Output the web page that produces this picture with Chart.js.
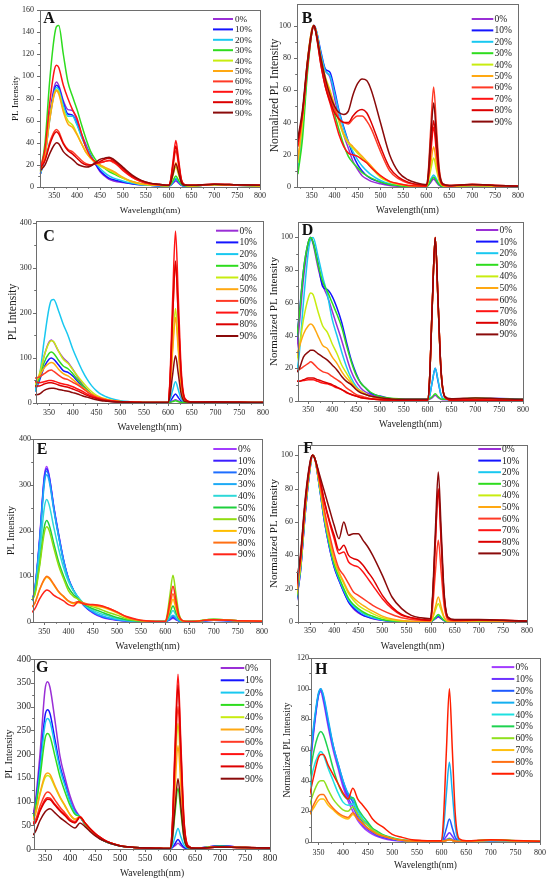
<!DOCTYPE html>
<html><head><meta charset="utf-8">
<script src="https://cdn.jsdelivr.net/npm/chart.js@4.4.1/dist/chart.umd.min.js"></script>
<style>
html,body{margin:0;padding:0;background:#fff;}
body{width:550px;height:884px;position:relative;overflow:hidden;}
canvas{position:absolute;}
</style></head><body>
<script>
// ---------- DATA ----------
const wavelengths = [320,330,340,350,355,360,370,380,390,400,410,420,430,440,450,460,470,480,500,520,540,560,580,600,604,610,616,622,628,636,650,700,750,800];
const seriesLabels = ['0%','10%','20%','30%','40%','50%','60%','70%','80%','90%'];
const xTickValues = [350,400,450,500,550,600,650,700,750,800];
const yTicksA = [0,20,40,60,80,100,120,140,160];
const yTicksNorm = [0,20,40,60,80,100];
const yTicks400 = [0,100,200,300,400];
const yTicksG = [0,50,100,150,200,250,300,350,400];
const yTicksH = [0,20,40,60,80,100,120];

const seriesA = [
 [12,30,65,90,95,92,78,70,69,60,48,38,29,21,14,10,7,5.5,4,3,2,1.5,1,1,1.5,3.5,5.5,3.5,1.5,1,1,2,1.5,1],
 [12,28,62,87,92,90,76,66,65,57,46,36,28,21,15,11,8,6.5,4.5,3,2,1.5,1,1,1.5,4,7,4.5,1.8,1,1,2,1.5,1],
 [12,28,60,85,90,88,74,64,64,56,45,36,28,22,17,13,10,8,5.5,3.5,2,1.5,1,1,1.5,4.5,8,5,2,1,1,2,1.5,1],
 [15,40,95,135,145,146,120,95,82,70,56,43,32,25,20,17,14,12,8,5,3,2,1.5,1.2,2,6,10,6,2.5,1.2,1,2,1.5,1],
 [14,30,62,84,88,86,70,60,56,48,39,31,26,22,19,17,15,13,8,4.5,2.5,2,1.5,1.2,3,11,18,11,4,1.5,1,2,1.5,1],
 [14,30,60,83,87,84,68,57,54,47,39,31,26,22,20,18,16,14,9,5,3,2,1.5,1.2,3.5,13,22,13,4.5,1.5,1,2,1.5,1],
 [18,25,40,50,52,50,40,34,32,28,24,21,20,21,22,23,24,22,16,9,5,3,2,1.5,4,19,33,20,6,2,1.5,2.5,2,1.5],
 [17,35,75,105,110,108,92,80,70,62,48,35,27,23,22,23,24,23,15,9,5,3,2,1.5,5,24,42,25,7,2,1.5,2.5,2,1.5],
 [17,24,38,48,50,48,39,33,30,26,22,20,20,21,23,25,26,24,17,10,6,3.5,2.5,1.5,4.5,21,37,22,6.5,2,1.5,2.5,2,1.5],
 [15,20,30,38,40,39,32,28,25,21,19,18,19,22,25,26,27,25,18,11,6,3.5,2.5,1.5,3,12,21,13,4,1.5,1.5,2.5,2,1.5]
];
const seriesB = [
 [15,40,75,97,100,96,82,72,68,55,42,32,24,16,11,7,5,3.5,2,1,0.5,0.3,0.2,0.2,1,3,5,3,1,0.3,0.3,1,0.5,0.3],
 [14,38,72,96,100,97,84,73,71,60,47,37,28,20,14,10,7,5,3,1.5,0.8,0.4,0.3,0.2,1,4,6,4,1.5,0.4,0.3,1,0.5,0.3],
 [12,35,70,95,100,97,83,72,69,58,46,36,28,22,17,13,10,7.5,4,2,1,0.5,0.3,0.2,1.5,5,7.5,5,2,0.5,0.3,1,0.5,0.3],
 [8,30,68,95,100,95,78,64,54,45,35,26,19,15,12,9,7,5.5,3,1.5,0.8,0.4,0.3,0.2,1,4,6,4,1.5,0.4,0.3,1,0.5,0.3],
 [15,40,75,97,100,96,80,68,60,50,40,32,27,24,21,18,15,12,6,3,1.5,0.8,0.5,0.3,3,11,18,11,4,0.8,0.4,1,0.5,0.3],
 [17,42,76,97,100,96,80,67,59,50,41,33,28,25,22,19,16,13,7,3.5,1.8,1,0.6,0.4,4,15,25,15,5,1,0.5,1,0.5,0.3],
 [28,45,72,95,100,95,78,64,55,48,42,40,39,42,44,44,41,36,22,10,5,2.5,1.5,1,8,38,62,38,12,2,1,1.5,1,0.5],
 [25,45,75,96,100,95,76,62,52,42,32,25,21,20,19,17,15,12,7,3.5,2,1,0.6,0.5,5,22,37,22,7,1.2,0.6,1.5,1,0.5],
 [28,46,73,95,100,94,76,62,53,46,42,40,40,44,47,48,46,40,25,12,6,3,1.5,1,5,25,41,25,8,1.5,1,1.5,1,0.5],
 [30,48,76,96,100,95,80,67,57,50,46,45,47,57,64,67,66,60,40,20,9,4.5,2.5,1.5,7,32,52,32,10,2,1,1.5,1,0.5]
];
const seriesC = [
 [30,60,105,135,140,135,115,100,90,75,58,42,30,20,14,10,7,5,3,2,1.5,1,1,1,1.5,4.5,7,4.5,1.5,1,1,1.5,1.5,1],
 [25,50,80,97,100,97,85,72,68,60,48,36,26,18,12,8,6,4,2.5,1.5,1,1,1,1,3,12,20,12,4,1,1,1.5,1.5,1],
 [25,60,140,210,228,230,205,175,150,120,95,72,53,38,27,19,14,10,5,3,2,1.5,1,1,6,28,47,29,9,2,1.5,3,2,1.5],
 [35,55,90,110,113,110,95,82,76,65,52,40,29,20,14,10,7,5,3,2,1.5,1,1,1,1.5,3,5,3,1.5,1,1,2,1.5,1],
 [40,65,105,133,138,136,115,97,88,74,60,47,35,25,17,12,9,6,3.5,2,1.5,1,1,1,25,125,210,125,40,5,1.5,2,1.5,1],
 [45,60,78,88,90,88,75,65,60,52,43,35,27,20,15,11,8,6,3.5,2,1.5,1,1,1,22,115,190,115,37,5,1.5,2,1.5,1],
 [55,58,65,72,73,70,62,55,52,46,40,33,25,18,13,10,7,5,3,2,1.5,1,1,1,38,190,310,190,60,8,2,2,1.5,1],
 [48,45,47,50,50,49,45,42,40,36,31,26,20,15,11,8,6,4.5,3,2,1.5,1,1,1,45,230,382,230,75,10,2,2,1.5,1],
 [38,38,42,45,45,44,40,37,35,31,27,22,17,13,10,7,5,4,2.5,2,1.5,1,1,1,38,190,315,190,62,8,2,2,1.5,1],
 [18,20,28,32,33,33,30,28,26,23,20,16,13,10,7,5,4,3,2,1.5,1,1,1,1,13,63,105,64,20,3,1.5,2,1.5,1]
];
const seriesD = [
 [21,43,75,96,100,96,82,71,64,55,46,37,27,18,12,8,5.5,4,2,1.4,1,0.7,0.7,0.7,1,2,3.5,2,1,0.7,0.7,1,1,0.7],
 [25,50,80,97,100,97,85,70,68,64,57,48,36,25,17,11,8,5,3,1.5,1,1,1,1,3,12,20,12,4,1,1,1.5,1.5,1],
 [11,26,61,91,99,100,89,76,65,50,40,30,21,14,9,6,4,3,2,1.3,1,0.7,0.5,0.5,2.6,12,20,12.6,4,1,0.7,1.3,1,0.7],
 [31,49,80,97,100,97,84,73,67,60,53,45,34,24,16,11,8,5.5,2.7,1.8,1.3,1,1,1,1.3,2.7,4.4,2.7,1.3,1,1,1.8,1.3,1],
 [19,31,50,63,66,65,55,46,42,35,29,22,17,12,8,6,4.3,3,1.7,1,0.7,0.5,0.5,0.5,12,60,100,60,19,2.4,0.7,1,0.7,0.5],
 [24,32,41,46,47,46,40,34,32,27,23,18,14,11,8,6,4,3,1.8,1,0.8,0.5,0.5,0.5,12,60,100,60,19,2.6,0.8,1,0.8,0.5],
 [18,19,21,23,24,23,20,18,17,15,13,11,8,6,4,3,2.3,1.6,1,0.6,0.5,0.3,0.3,0.3,12,61,100,61,19,2.6,0.6,0.6,0.5,0.3],
 [12.5,12,12.5,13,13,13,12,11,10.5,9.4,8,7,5,4,3,2,1.6,1.2,0.8,0.5,0.4,0.3,0.3,0.3,12,60,100,60,20,2.6,0.5,0.5,0.4,0.3],
 [12,12,13,14,14,14,13,12,11,10,8.5,7,5.4,4,3,2.2,1.6,1.3,0.8,0.6,0.5,0.3,0.3,0.3,12,60,100,60,20,2.5,0.6,0.6,0.5,0.3],
 [17,19,27,30,31,31,29,27,25,22,19,15,12,10,7,5,4,3,2,1.4,1,1,1,1,12,60,100,61,19,2.9,1.4,1.9,1.4,1]
];
const seriesE = [
 [40,70,180,320,340,320,250,190,135,95,70,52,38,28,20,14,10,7,4,2,1.5,1,1,1,2,5,8,5,2,1,1,4,2,1],
 [40,68,175,315,335,318,248,188,134,94,70,52,38,28,21,15,11,8,4.5,2.5,1.5,1,1,1,2,6,10,6,2,1,1,4,2,1],
 [40,68,172,310,330,315,246,186,133,94,70,53,39,29,22,16,12,9,5,2.5,1.5,1,1,1,2.5,8,13,8,2.5,1,1,4,2,1],
 [40,68,170,302,322,308,242,184,132,93,70,54,40,30,23,17,13,10,5.5,3,1.5,1,1,1,3,9,15,9,3,1,1,4.5,2,1],
 [40,62,145,250,268,256,205,158,118,88,68,54,42,32,26,21,17,14,7,3.5,2,1,1,1,4,15,25,15,5,1.5,1,5,2.5,1],
 [45,60,125,208,222,212,170,130,100,75,60,50,40,34,29,25,21,17,10,5,2.5,1.5,1,1,6,21,35,21,7,2,1,6,3,1.5],
 [50,58,120,195,208,200,160,122,94,68,56,50,42,37,33,30,26,22,15,7,3,1.5,1,1,16,62,102,62,20,3,1,6,3,1.5],
 [30,40,70,92,98,95,80,65,55,45,40,42,40,38,36,34,32,29,20,10,5,2,1,1,8,30,50,30,10,2,1,5,3,1.5],
 [30,40,70,94,100,97,82,66,56,46,42,45,42,39,37,36,34,31,22,11,5,2,1,1,10,38,62,38,12,2.5,1,5,3,1.5],
 [18,28,50,66,70,68,58,52,46,38,35,44,40,38,38,37,35,31,22,12,6,2.5,1,1,12,48,78,48,15,3,1,5,3,1.5]
];
const seriesF = [
 [10,30,65,92,100,98,80,60,45,33,25,18,12,8,5.5,4,3,2,1,0.5,0.3,0.2,0.2,0.2,0.8,2,3,2,0.8,0.2,0.2,0.5,0.5,0.3],
 [10,30,65,92,100,98,80,60,45,33,25,18,12,8.5,6,4,3,2.2,1,0.5,0.3,0.2,0.2,0.2,0.8,2.2,3.5,2.2,0.8,0.2,0.2,0.5,0.5,0.3],
 [11,31,66,92,100,98,80,61,46,34,26,19,13,9.5,7,5,3.5,2.5,1.2,0.6,0.3,0.2,0.2,0.2,1,2.6,4,2.6,1,0.3,0.2,0.5,0.5,0.3],
 [12,32,67,93,100,98,81,62,47,35,27,20,14,10.5,8,6,4.5,3.5,1.5,0.7,0.4,0.2,0.2,0.2,1,2.7,4.5,2.7,1,0.3,0.2,0.6,0.5,0.3],
 [13,33,68,93,100,98,82,63,49,37,29,23,17,13,10,8,6.5,5,2.5,1.2,0.6,0.3,0.2,0.2,2,7,11,7,2.5,0.4,0.2,0.6,0.5,0.3],
 [14,34,69,94,100,98,82,64,50,38,30,24,18,14.5,12,10,8,6.5,3.5,1.8,0.9,0.4,0.3,0.3,2.5,9,15,9,3,0.5,0.3,0.7,0.5,0.3],
 [18,36,70,94,100,98,84,67,53,41,32,28,23,18,16,14,12,10,7,4.5,2.5,1.5,1,0.8,8,30,49,30,10,1.5,0.8,1,0.8,0.5],
 [20,38,72,95,100,98,86,72,60,50,41,42,36,34,33,30,26,22,14,8,4,2.5,1.5,1,13,49,80,49,16,2.5,1,1.2,1,0.5],
 [20,38,72,95,100,98,86,72,61,52,43,46,40,38,37,34,30,26,16,9,4.5,2.5,1.5,1,13,48,79,48,16,2.5,1,1.2,1,0.5],
 [22,40,74,96,100,98,88,78,68,58,50,60,52,53,53,49,45,40,28,15,8,4,2.5,2,15,55,90,55,18,3,1.5,1.5,1,0.5]
];
const seriesG = [
 [55,95,200,335,352,340,270,195,150,112,84,68,52,40,32,23,17,12,7,4,2.5,2,1.5,1,2.5,7,12,7,2.5,1,1,7,3,2],
 [50,85,175,280,293,285,230,175,138,102,78,68,52,40,30,22,16,12,6.5,4,2.5,2,1.5,1,3,11,20,11,3.5,1,1,7,3,2],
 [45,80,165,262,275,268,218,168,133,100,77,68,52,40,30,22,16,12,6.5,4,2.5,2,1.5,1,5,25,43,25,8,1.5,1,6,3,2],
 [55,80,150,232,243,237,195,152,120,92,73,68,52,40,30,22,16,12,6.5,4,2.5,2,1.5,1,13,75,128,75,22,3,1,6,3,2],
 [55,70,115,150,155,152,130,108,90,72,62,67,54,42,31,23,17,13,7,4,2.5,2,1.5,1,26,155,265,155,45,5,1.5,5,3,2],
 [58,72,118,155,160,157,133,110,92,73,63,68,54,42,31,23,17,13,7,4,2.5,2,1.5,1,22,127,218,127,37,4,1.5,5,3,2],
 [55,60,90,115,120,118,103,88,76,63,58,68,55,42,32,24,18,13,7,4,2.5,2,1.5,1,30,175,300,175,50,6,1.5,4,3,2],
 [55,56,82,104,108,107,94,82,72,60,56,68,55,43,33,25,18,13,7,4,2.5,2,1.5,1,37,215,368,215,62,7,1.5,4,3,2],
 [52,54,80,100,105,104,92,80,70,59,55,67,55,43,33,25,18,13,7,4,2.5,2,1.5,1,35,200,345,200,58,7,1.5,4,3,2],
 [25,35,60,78,83,85,76,66,58,50,44,55,47,37,28,21,16,12,6.5,4,2.5,2,1.5,1,15,86,148,86,25,3,1.5,4,3,2]
];
const seriesH = [
 [20,40,70,95,98,92,75,60,48,36,27,20,14,10,7,5,3.5,2.5,1.2,0.6,0.4,0.3,0.3,0.3,0.8,1.6,2.5,1.6,0.8,0.3,0.3,0.8,0.5,0.3],
 [20,40,72,96,99,94,77,62,50,38,29,23,16,11,8,6,4,3,1.5,0.8,0.5,0.3,0.3,0.3,1.2,3.7,6,3.7,1.2,0.3,0.3,0.8,0.5,0.3],
 [20,42,73,96,100,95,78,63,51,40,31,26,18,13,9,6.5,4.5,3.5,1.8,1,0.5,0.3,0.3,0.3,2.5,9,15,9,3,0.5,0.3,1,0.5,0.3],
 [22,45,75,97,100,96,80,63,51,40,32,28,21,15,12,8,6,4.5,2.5,1.2,0.7,0.4,0.3,0.3,8,32,52,32,10,1,0.3,1,0.6,0.3],
 [18,32,48,57,59,57,48,40,32,26,24,25,20,15,11,8,6,4.5,2.5,1.2,0.7,0.4,0.3,0.3,0.5,1.2,2,1.2,0.5,0.3,0.3,1,0.6,0.3],
 [20,38,58,70,72,70,60,48,38,31,28,29,22,17,13,9,7,5,2.8,1.4,0.8,0.5,0.3,0.3,0.5,1.2,2,1.2,0.5,0.3,0.3,1.5,0.8,0.4],
 [15,22,32,39,40,40,34,28,24,21,20,23,18,14,11,8,6,4.5,2.5,1.2,0.7,0.4,0.3,0.3,0.5,1,1.5,1,0.5,0.3,0.3,1.5,0.8,0.4],
 [13,17,22,27,28,28,24,21,18,16,15,18,15,12,9,7,5,4,2.2,1.1,0.6,0.4,0.3,0.3,0.5,1,1.5,1,0.5,0.3,0.3,1.2,0.7,0.4],
 [13,17,24,30,31,31,26,22,19,17,16,19,15,12,9,7,5,4,2.2,1.1,0.6,0.4,0.3,0.3,0.5,1,1.5,1,0.5,0.3,0.3,1.2,0.7,0.4],
 [18,28,42,55,57,57,50,44,38,32,28,35,28,24,20,15,12,10,5,3,1.5,1,0.8,0.8,15,60,100,60,18,2,0.8,1.5,1,0.5]
];

// ---------- STYLE / LAYOUT ----------
const palRed = ['#9a2fd6','#1414ff','#19c8f0','#2edc1e','#c8ec10','#ffa812','#ff3a26','#ff1414','#dc0000','#8a0a0a'];
const palE = ['#a23cff','#3c1eff','#1e6eff','#1eaaf5','#2ed8d8','#1ecf3c','#90dc10','#ffbe00','#ff7014','#ff2418'];
const palH = ['#a23cff','#6e32ff','#1e5aff','#14aff0','#1ee0e0','#1ed250','#90e01e','#ffc010','#ff7014','#ff1e00'];
const FF = '"Liberation Serif","Times New Roman",serif';
const XH = 32, PT = 6, PR = 9;

const panels = [
 {id:'A', s:seriesA, yt:yTicksA, pal:palRed, box:[40,10,260,187.3], cl:0, xMin:319, yMax:160, yTitle:'PL Intensity', yts:9.2, ytx:15.7, xts:9, xty:211, tk:8, yPad:6, xOff:8.7, lg:[213,233,235,19,10.4,9.2], lt:[43.3,23.3]},
 {id:'B', s:seriesB, yt:yTicksNorm, pal:palRed, box:[297,4,518,187.3], cl:266, xMin:318, yMax:113.4, yTitle:'Normalized PL Intensity', yts:11.5, ytx:274.7, xts:9.4, xty:211, tk:8, yPad:6, xOff:8.7, lg:[471.7,493.3,494.5,19,11.4,9.5], lt:[301.7,23.3]},
 {id:'C', s:seriesC, yt:yTicks400, pal:palRed, box:[36,221,263,402.7], cl:0, xMin:322.7, yMax:404, yTitle:'PL Intensity', yts:11.5, ytx:12.5, xts:9.6, xty:426.7, tk:8, yPad:4.3, xOff:10, lg:[216,238.3,239.5,230.7,11.7,9.5], lt:[43.3,240.7]},
 {id:'D', s:seriesD, yt:yTicksNorm, pal:palRed, box:[298,222,523,400.7], cl:266, xMin:328.4, yMax:109.4, yTitle:'Normalized PL Intensity', yts:11, ytx:274, xts:9.4, xty:424, tk:8, yPad:5, xOff:9.3, lg:[476,498.3,499.5,230,11.6,9.5], lt:[301.7,235]},
 {id:'E', s:seriesE, yt:yTicks400, pal:palE, box:[33,439,262,622], cl:0, xMin:326.6, yMax:400, yTitle:'PL Intensity', yts:10, ytx:11, xts:9.6, xty:646, tk:8, yPad:2, xOff:9.7, lg:[213.3,236.7,238,449,11.7,9.5], lt:[36.7,454]},
 {id:'F', s:seriesF, yt:yTicksNorm, pal:palRed, box:[298,445,527,621.7], cl:266, xMin:325, yMax:106.2, yTitle:'Normalized PL Intensity', yts:11, ytx:274, xts:9.5, xty:645.7, tk:8, yPad:5, xOff:9, lg:[478.3,501,502,449,11.6,9.5], lt:[303.3,453.3]},
 {id:'G', s:seriesG, yt:yTicksG, pal:palRed, box:[34,659,270,849], cl:0, xMin:328, yMax:400, yTitle:'PL Intensity', yts:10, ytx:9, xts:9.6, xty:873.3, tk:9.5, yPad:3, xOff:9.3, lg:[220.7,244.3,245,668,12.3,9.8], lt:[36,672.3]},
 {id:'H', s:seriesH, yt:yTicksH, pal:palH, box:[311,657.6,540,841.7], cl:266, xMin:335, yMax:120, yTitle:'Normalized PL Intensity', yts:9.6, ytx:287.3, xts:9.4, xty:865, tk:8, yPad:2, xOff:11, lg:[491.7,514.3,515.5,666.7,11.85,9.5], lt:[315,673.3]}
];

const deco = {
  id: 'deco',
  afterDraw(chart, args, o) {
    const {ctx, chartArea: a} = chart;
    const xs = chart.scales.x, ys = chart.scales.y;
    ctx.save();
    ctx.strokeStyle = '#6e6e6e'; ctx.lineWidth = 1;
    ctx.beginPath();
    xs.ticks.forEach(t => {
      const px = Math.round(xs.getPixelForValue(t.value)) + 0.5;
      ctx.moveTo(px, a.bottom); ctx.lineTo(px, a.bottom + 3);
      const m = t.value - 25;
      if (m >= xs.min) { const pm = Math.round(xs.getPixelForValue(m)) + 0.5; ctx.moveTo(pm, a.bottom); ctx.lineTo(pm, a.bottom + 1.8); }
    });
    ys.ticks.forEach((t, i) => {
      const py = Math.round(ys.getPixelForValue(t.value)) + 0.5;
      ctx.moveTo(a.left, py); ctx.lineTo(a.left - 3, py);
      if (i > 0) {
        const m = (t.value + ys.ticks[i - 1].value) / 2;
        const pm = Math.round(ys.getPixelForValue(m)) + 0.5;
        ctx.moveTo(a.left, pm); ctx.lineTo(a.left - 1.8, pm);
      }
    });
    ctx.stroke();
    ctx.strokeRect(Math.round(a.left) + 0.5, Math.round(a.top) + 0.5, Math.round(a.right - a.left), Math.round(a.bottom - a.top));
    const [x1, x2, tx, y0, step, fs] = o.lg;
    ctx.font = fs + 'px ' + FF;
    ctx.textBaseline = 'middle'; ctx.textAlign = 'left';
    chart.data.datasets.forEach((d, i) => {
      const y = y0 - o.oy + i * step;
      ctx.strokeStyle = d.borderColor; ctx.lineWidth = 2;
      ctx.beginPath(); ctx.moveTo(x1 - o.ox, y); ctx.lineTo(x2 - o.ox, y); ctx.stroke();
      ctx.fillStyle = '#1a1a1a';
      ctx.fillText(d.label, tx - o.ox, y + 0.5);
    });
    ctx.font = 'bold 16px ' + FF;
    ctx.textBaseline = 'alphabetic'; ctx.fillStyle = '#111';
    ctx.fillText(o.letter, o.lt[0] - o.ox, o.lt[1] - o.oy);
    ctx.restore();
  }
};

panels.forEach(p => {
  const [L, T, R, B] = p.box;
  const cl = p.cl, ct = T - PT;
  const cw = Math.round(R + PR - cl), ch = Math.round(B + XH - ct);
  const cv = document.createElement('canvas');
  cv.width = cw; cv.height = ch;
  cv.style.left = cl + 'px'; cv.style.top = ct + 'px';
  cv.style.width = cw + 'px'; cv.style.height = ch + 'px';
  document.body.appendChild(cv);
  const yw = L - cl;
  const yTitleLH = p.yts * 1.2, xTitleLH = p.xts * 1.2;
  const datasets = p.s.map((arr, i) => ({
    label: seriesLabels[i],
    data: wavelengths.map((w, k) => ({x: w, y: arr[k]})),
    borderColor: p.pal[i],
    borderWidth: 1.5,
    pointRadius: 0,
    cubicInterpolationMode: 'monotone',
    fill: false,
    order: 9 - i,
    clip: 1
  }));
  new Chart(cv, {
    type: 'line',
    data: {datasets},
    plugins: [deco],
    options: {
      responsive: false,
      animation: false,
      events: [],
      layout: {padding: {left: 0, top: PT, right: PR, bottom: 0}},
      plugins: {
        legend: {display: false},
        tooltip: {enabled: false},
        deco: {lg: p.lg, lt: p.lt, letter: p.id, ox: cl, oy: ct}
      },
      scales: {
        x: {
          type: 'linear', min: p.xMin, max: 800,
          grid: {display: false, drawTicks: false},
          border: {display: false},
          afterBuildTicks: s => { s.ticks = xTickValues.map(v => ({value: v})); },
          afterFit: s => { s.height = XH; s.paddingLeft = 0; s.paddingRight = 0; },
          ticks: {autoSkip: false, maxRotation: 0, minRotation: 0, padding: p.xOff - p.tk * 0.6,
                  font: {family: FF, size: p.tk}, color: '#2a2a2a'},
          title: {display: true, text: 'Wavelength(nm)', color: '#1a1a1a',
                  font: {family: FF, size: p.xts},
                  padding: {top: 0, bottom: B + XH - xTitleLH / 2 - p.xty}}
        },
        y: {
          type: 'linear', min: 0, max: p.yMax,
          grid: {display: false, drawTicks: false},
          border: {display: false},
          afterBuildTicks: s => { s.ticks = p.yt.map(v => ({value: v})); },
          afterFit: s => { s.width = yw; s.paddingTop = 0; s.paddingBottom = 0; },
          ticks: {padding: p.yPad, font: {family: FF, size: p.tk}, color: '#2a2a2a'},
          title: {display: true, text: p.yTitle, color: '#1a1a1a',
                  font: {family: FF, size: p.yts},
                  padding: {top: p.ytx - cl - yTitleLH / 2, bottom: 0}}
        }
      }
    }
  });
});
</script>
</body></html>
